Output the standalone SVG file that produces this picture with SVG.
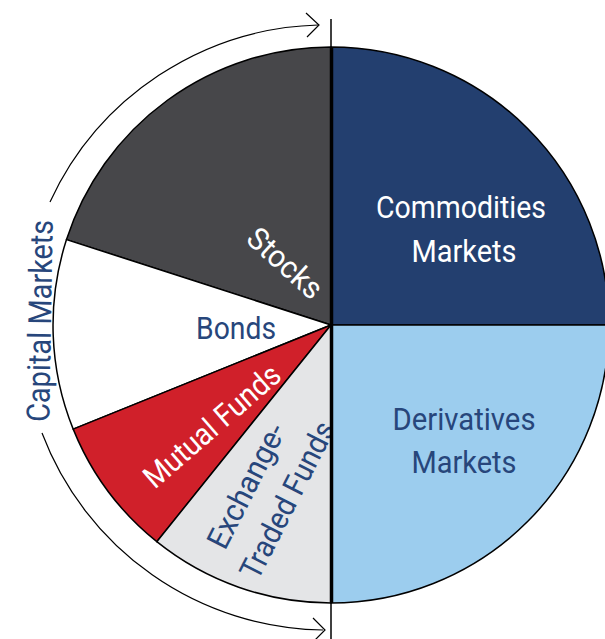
<svg xmlns="http://www.w3.org/2000/svg" width="605" height="639" viewBox="0 0 605 639">
<defs>
<style>
.slice{stroke:#000;stroke-width:1.5;stroke-linejoin:round}
.lbl{font-family:"Liberation Sans Narrow","Roboto","Liberation Sans",sans-serif;text-anchor:middle}
.w{fill:#ffffff}
.n{fill:#27467b}
.arc{fill:none;stroke:#000;stroke-width:1.2}
</style>
</defs>
<rect width="605" height="639" fill="#ffffff"/>
<g id="stocks">
<path class="slice" d="M331,325 L331,47 A278,278 0 0 0 66.5,239.6 Z" fill="#47474a"/>
<text class="lbl w" font-size="31" transform="translate(278,271) rotate(42)" textLength="90" lengthAdjust="spacingAndGlyphs">Stocks</text>
</g>
<g id="bonds">
<path class="slice" d="M331,325 L66.5,239.6 A278,278 0 0 0 73.2,429.1 Z" fill="#ffffff"/>
<text class="lbl n" font-size="31" x="236" y="339" textLength="80" lengthAdjust="spacingAndGlyphs">Bonds</text>
</g>
<g id="mutual-funds">
<path class="slice" d="M331,325 L73.2,429.1 A278,278 0 0 0 156.8,541.7 Z" fill="#d0202a"/>
<text class="lbl w" font-size="31" transform="translate(219,434) rotate(-41)" textLength="170" lengthAdjust="spacingAndGlyphs">Mutual Funds</text>
</g>
<g id="etf">
<path class="slice" d="M331,325 L156.8,541.7 A278,278 0 0 0 331,603 Z" fill="#e4e5e7"/>
<g transform="translate(271,494) rotate(-63)">
<text class="lbl n" font-size="31" x="-4" y="-15" textLength="136" lengthAdjust="spacingAndGlyphs">Exchange-</text>
<text class="lbl n" font-size="31" x="2" y="28" textLength="172" lengthAdjust="spacingAndGlyphs">Traded Funds</text>
</g>
</g>
<g id="commodities">
<path class="slice" d="M331,325 L331,47 A278,278 0 0 1 609,325 Z" fill="#233f6f"/>
<text class="lbl w" font-size="32" x="461" y="218" textLength="170" lengthAdjust="spacingAndGlyphs">Commodities</text>
<text class="lbl w" font-size="32" x="464" y="262" textLength="105" lengthAdjust="spacingAndGlyphs">Markets</text>
</g>
<g id="derivatives">
<path class="slice" d="M331,325 L609,325 A278,278 0 0 1 331,603 Z" fill="#9ccdee"/>
<text class="lbl n" font-size="32" x="464" y="430" textLength="143" lengthAdjust="spacingAndGlyphs">Derivatives</text>
<text class="lbl n" font-size="32" x="464" y="473" textLength="105" lengthAdjust="spacingAndGlyphs">Markets</text>
</g>
<g id="capital-markets">
<text class="lbl n" font-size="32" transform="translate(51,321) rotate(-89)" textLength="202" lengthAdjust="spacingAndGlyphs">Capital Markets</text>
</g>
<g id="connectors">
<line x1="331.5" y1="47" x2="331.5" y2="603" stroke="#000" stroke-width="3.5"/>
<line x1="331" y1="19" x2="331" y2="47" stroke="#000" stroke-width="1.5"/>
<line x1="331" y1="603" x2="331" y2="639" stroke="#000" stroke-width="1.5"/>
<path class="arc" d="M50,202 A305,305 0 0 1 318,25"/>
<path class="arc" d="M306,13 L319,25 L307,37"/>
<path class="arc" d="M42,433 A305,305 0 0 0 323,630"/>
<path class="arc" d="M313,618 L325,630 L313,642"/>
</g>
</svg>
